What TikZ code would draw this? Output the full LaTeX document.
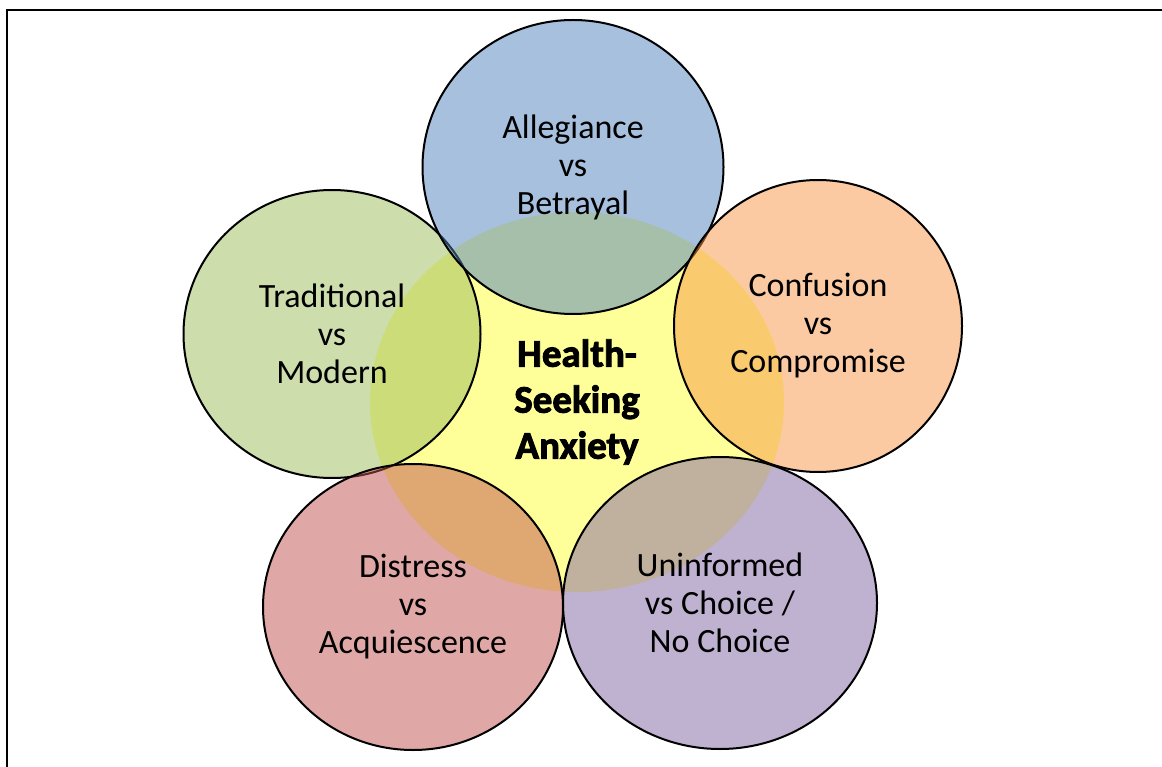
\documentclass[tikz,border=0pt]{standalone}
\usepackage{fontspec}
\setmainfont{Carlito}
\newfontfamily\heavyfont[FakeBold=2.4]{Carlito Bold}
\usetikzlibrary{shapes.geometric}
\definecolor{cblue}{HTML}{4F81BD}
\definecolor{cgreen}{HTML}{9BBB59}
\definecolor{corange}{HTML}{F79646}
\definecolor{cred}{HTML}{C0504D}
\definecolor{cpurple}{HTML}{8064A2}
\definecolor{cyellow}{HTML}{FFFF99}
\tikzset{
  outer/.style={ellipse, draw=black, line width=2pt, fill opacity=0.5, text opacity=1,
    inner sep=0pt, align=center, font=\fontsize{34}{38}\selectfont},
  core/.style={ellipse, fill=cyellow, inner sep=0pt, align=center,
    font=\fontsize{39}{46}\heavyfont},
  frame/.style={line width=2.3pt}
}
\begin{document}
\begin{tikzpicture}[x=1pt,y=-1pt]
\useasboundingbox (0,0) rectangle (1162,767);
\clip (0,0) rectangle (1162,767);
\draw[frame] (7,790) -- (7,10) -- (1180,10);
\node[core, minimum width=414pt, minimum height=380pt] (c) at (577,402) {Health-\\Seeking\\Anxiety};
\node[outer, fill=cgreen, minimum width=297pt, minimum height=288pt] (g) at (332,334) {Traditional\\vs\\Modern};
\node[outer, fill=cblue, minimum width=301pt, minimum height=294pt] (b) at (573,167) {Allegiance\\vs\\Betrayal};
\node[outer, fill=corange, minimum width=288pt, minimum height=292pt] (o) at (818,326) {Confusion\\vs\\Compromise};
\node[outer, fill=cred, minimum width=300pt, minimum height=286pt] (r) at (413,607) {Distress\\vs\\Acquiescence};
\node[outer, fill=cpurple, minimum width=314pt, minimum height=292pt] (p) at (720,603) {Uninformed\\vs Choice /\\No Choice};
\end{tikzpicture}
\end{document}
